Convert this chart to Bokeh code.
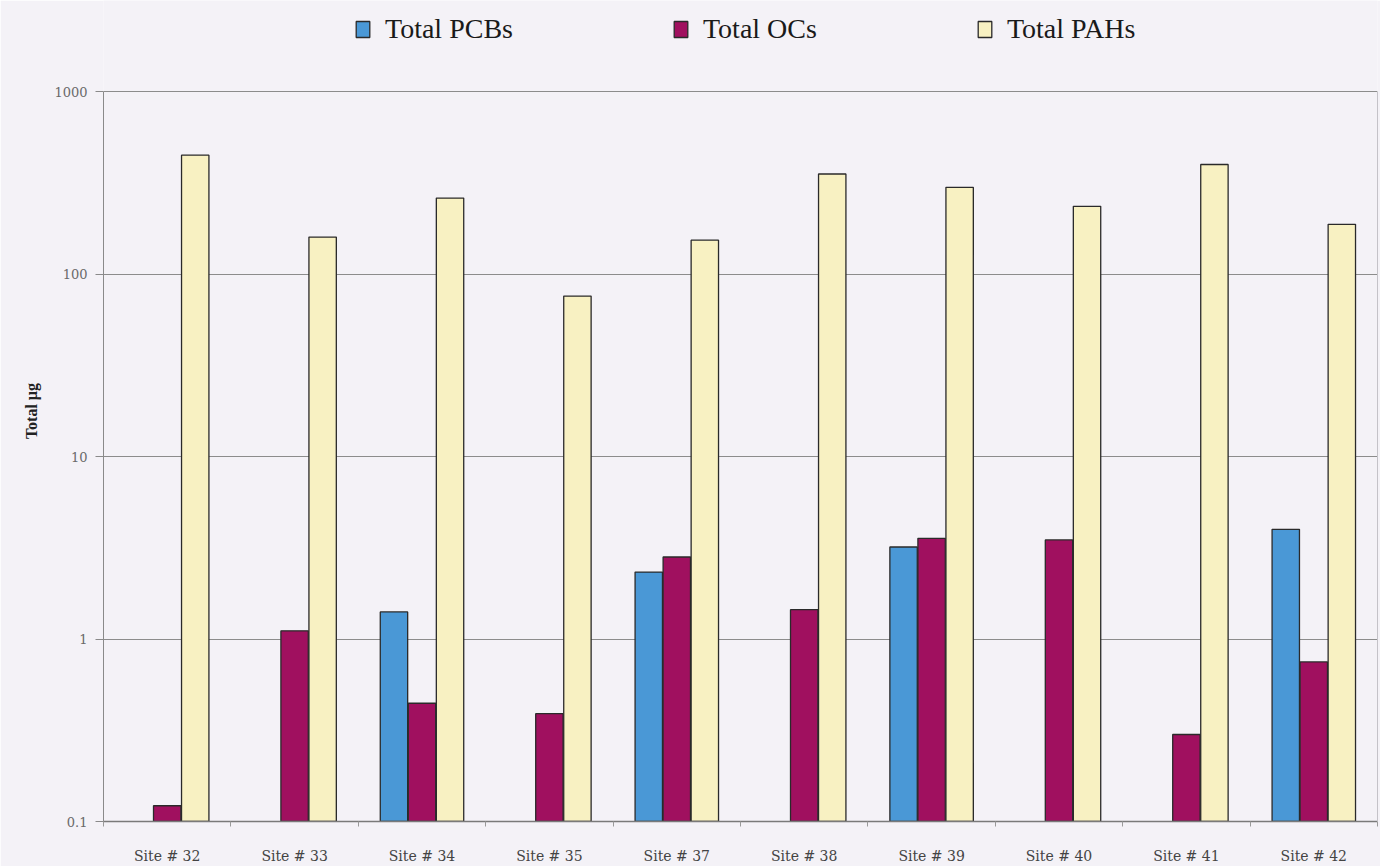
from bokeh.plotting import figure
from bokeh.models import (ColumnDataSource, Range1d, FixedTicker, LinearAxis,
                          LogAxis, Legend, LegendItem)
from bokeh.embed import file_html
from bokeh.resources import INLINE

# Sampling sites and measured totals (µg)
sites = ["Site # 32", "Site # 33", "Site # 34", "Site # 35", "Site # 37",
         "Site # 38", "Site # 39", "Site # 40", "Site # 41", "Site # 42"]
pcbs = [None, None, 1.41, None, 2.33, None, 3.2, None, None, 4.0]
ocs = [0.122, 1.11, 0.445, 0.39, 2.82, 1.45, 3.57, 3.5, 0.30, 0.75]
pahs = [450, 160, 262, 76, 154, 355, 300, 236, 400, 188]

series = [
    ("Total PCBs", pcbs, "#4a98d6", -0.22),
    ("Total OCs", ocs, "#a0105f", 0.0),
    ("Total PAHs", pahs, "#f8f1c2", 0.22),
]

SERIF = "Liberation Serif"
WIDE_SERIF = "DejaVu Serif"
BG = "#f4f2f7"
BAR_W = 0.215
Y_MIN, Y_MAX = 0.1, 1000

# the frame reaches the top of the page so the legend can sit above the
# 1000 line; the y axis itself is bounded to 0.1 .. 1000
FRAME_H = 826
HEADROOM_PX = 92
decade_px = (FRAME_H - HEADROOM_PX) / 4.0
y_top = Y_MAX * 10 ** (HEADROOM_PX / decade_px)

p = figure(width=1380, height=866, output_backend="svg", toolbar_location=None,
           x_range=Range1d(0, len(sites)), y_range=Range1d(Y_MIN, y_top),
           y_axis_type="log", x_axis_type=None,
           min_border_left=103, min_border_right=3, min_border_top=0,
           min_border_bottom=40)
p.background_fill_color = BG
p.border_fill_color = BG
p.outline_line_color = None

# bars
renderers = []
for name, vals, color, off in series:
    xs, tops = [], []
    for i, v in enumerate(vals):
        if v is not None:
            xs.append(i + 0.5 + off)
            tops.append(v)
    src = ColumnDataSource(dict(x=xs, top=tops))
    r = p.vbar(x="x", top="top", bottom=Y_MIN, width=BAR_W, source=src,
               fill_color=color, line_color="#2a2a2a", line_width=1.3)
    renderers.append((name, r))

# y axis
ya = p.yaxis[0]
ya.bounds = (Y_MIN, Y_MAX)
ya.ticker = FixedTicker(ticks=[0.1, 1, 10, 100, 1000])
ya.major_label_overrides = {0.1: "0.1", 1: "1", 10: "10", 100: "100", 1000: "1000"}
ya.axis_label = "Total µg"
ya.axis_label_text_font = SERIF
ya.axis_label_text_font_style = "bold"
ya.axis_label_text_font_size = "16px"
ya.axis_label_text_color = "#222222"
ya.axis_label_standoff = 11
ya.major_label_text_font = WIDE_SERIF
ya.major_label_text_font_size = "13px"
ya.major_label_text_color = "#6a6a6a"
ya.major_label_standoff = 8
ya.major_tick_out = 8
ya.major_tick_in = 0
ya.minor_tick_line_color = None
ya.axis_line_color = "#8a8a8a"
ya.major_tick_line_color = "#8a8a8a"

# faint right-hand frame edge
ra = LogAxis(bounds=(Y_MIN, Y_MAX), ticker=FixedTicker(ticks=[]),
             axis_line_color="#c4c2c8", major_tick_line_color=None,
             minor_tick_line_color=None)
p.add_layout(ra, "right")

p.ygrid.grid_line_color = "#8c8c8c"
p.ygrid.grid_line_width = 1
p.ygrid.ticker = FixedTicker(ticks=[1, 10, 100, 1000])
p.xgrid.grid_line_color = None

# x axis: site names at group centres, small ticks at group boundaries
xa = LinearAxis(ticker=FixedTicker(ticks=[i + 0.5 for i in range(len(sites))],
                                   minor_ticks=list(range(len(sites) + 1))))
xa.major_label_overrides = {i + 0.5: s for i, s in enumerate(sites)}
xa.major_tick_line_color = None
xa.minor_tick_out = 5
xa.minor_tick_in = 0
xa.minor_tick_line_color = "#9a9a9a"
xa.axis_line_color = "#7a7a7a"
xa.axis_line_width = 1.5
xa.major_label_text_font = WIDE_SERIF
xa.major_label_text_font_size = "14px"
xa.major_label_text_color = "#444444"
xa.major_label_standoff = 20
p.add_layout(xa, "below")

legend = Legend(items=[LegendItem(label=n, renderers=[r]) for n, r in renderers],
                orientation="horizontal", location=(251, FRAME_H - 50),
                label_text_font=SERIF, label_text_font_size="28px",
                label_text_color="#1a1a1a", glyph_width=17, glyph_height=20,
                spacing=159, label_standoff=14, padding=0, margin=0,
                background_fill_alpha=0, border_line_color=None)
p.add_layout(legend, "center")

open("out.html", "w").write(file_html(p, INLINE))
